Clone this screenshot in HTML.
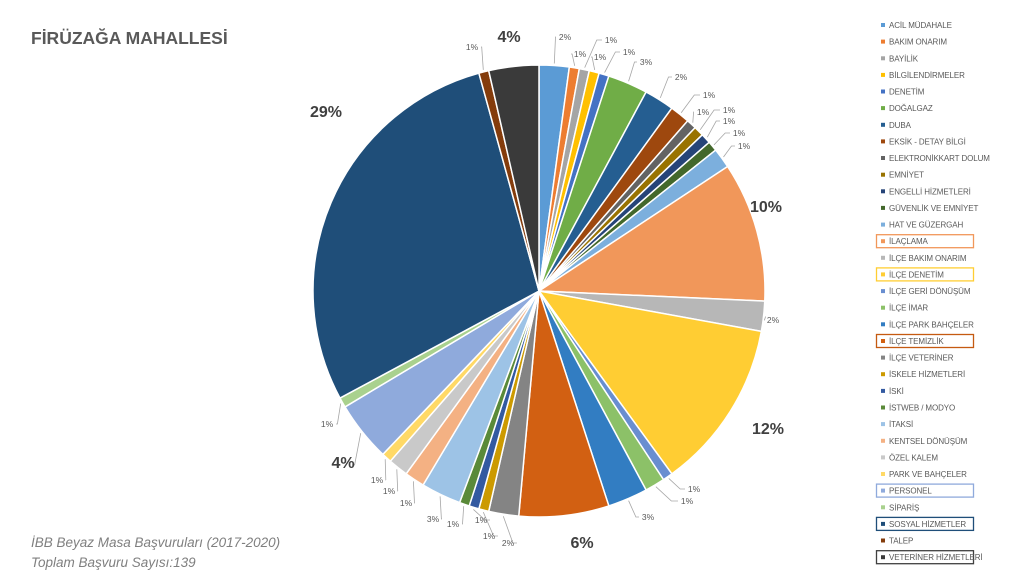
<!DOCTYPE html>
<html><head><meta charset="utf-8"><style>
body{margin:0;background:#fff;width:1030px;height:579px;overflow:hidden;font-family:"Liberation Sans",sans-serif}
.lg{font-size:8px;fill:#595959;letter-spacing:-0.1px}
.pl{font-size:8.5px;fill:#595959}
.bl{font-size:16px;font-weight:bold;fill:#404040}
</style></head><body>
<svg id="s" width="1030" height="579" xmlns="http://www.w3.org/2000/svg">
<text x="31" y="44" font-size="17.5" font-weight="bold" fill="#595959">FİRÜZAĞA MAHALLESİ</text>
<text x="31" y="547" font-size="13.5" font-style="italic" fill="#7f7f7f">İBB Beyaz Masa Başvuruları (2017-2020)</text>
<text x="31" y="567" font-size="13.5" font-style="italic" fill="#7f7f7f">Toplam Başvuru Sayısı:139</text>
<g id="pie"></g><g id="lines" stroke="#a6a6a6" stroke-width="0.8" fill="none"></g>
<g text-anchor="middle">
<text class="pl" x="565" y="40">2%</text><text class="pl" x="580" y="57">1%</text><text class="pl" x="611" y="43">1%</text>
<text class="pl" x="600" y="60">1%</text><text class="pl" x="629" y="55">1%</text><text class="pl" x="646" y="65">3%</text>
<text class="pl" x="681" y="80">2%</text><text class="pl" x="709" y="98">1%</text><text class="pl" x="703" y="115">1%</text>
<text class="pl" x="729" y="113">1%</text><text class="pl" x="729" y="124">1%</text><text class="pl" x="739" y="136">1%</text>
<text class="pl" x="744" y="149">1%</text>
<text class="bl" x="766" y="212">10%</text><text class="pl" x="773" y="323">2%</text><text class="bl" x="768" y="434">12%</text>
<text class="pl" x="694" y="492">1%</text><text class="pl" x="687" y="504">1%</text><text class="pl" x="648" y="520">3%</text>
<text class="bl" x="582" y="548">6%</text><text class="pl" x="508" y="546">2%</text><text class="pl" x="489" y="539">1%</text>
<text class="pl" x="481" y="523">1%</text><text class="pl" x="453" y="527">1%</text><text class="pl" x="433" y="522">3%</text>
<text class="pl" x="406" y="506">1%</text><text class="pl" x="389" y="494">1%</text><text class="pl" x="377" y="483">1%</text>
<text class="bl" x="343" y="468">4%</text><text class="pl" x="327" y="427">1%</text><text class="bl" x="326" y="117">29%</text>
<text class="pl" x="472" y="50">1%</text><text class="bl" x="509" y="42">4%</text>
</g>
<g id="leg"></g>
</svg>
<script>
var d=[["ACİL MÜDAHALE",3,"#5B9BD5"],["BAKIM ONARIM",1,"#ED7D31"],["BAYİLİK",1,"#A5A5A5"],["BİLGİLENDİRMELER",1,"#FFC000"],["DENETİM",1,"#4472C4"],["DOĞALGAZ",4,"#70AD47"],["DUBA",3,"#255E91"],["EKSİK - DETAY BİLGİ",2,"#9E480E"],["ELEKTRONİKKART DOLUM",1,"#636363"],["EMNİYET",1,"#997300"],["ENGELLİ HİZMETLERİ",1,"#264478"],["GÜVENLİK VE EMNİYET",1,"#43682B"],["HAT VE GÜZERGAH",2,"#7CAFDD"],["İLAÇLAMA",14,"#F1975A"],["İLÇE BAKIM ONARIM",3,"#B7B7B7"],["İLÇE DENETİM",17,"#FFCD33"],["İLÇE GERİ DÖNÜŞÜM",1,"#698ED0"],["İLÇE İMAR",2,"#8CC168"],["İLÇE PARK BAHÇELER",4,"#327DC2"],["İLÇE TEMİZLİK",9,"#D26012"],["İLÇE VETERİNER",3,"#848484"],["İSKELE HİZMETLERİ",1,"#CC9A00"],["İSKİ",1,"#335AA1"],["İSTWEB / MODYO",1,"#5A8A39"],["İTAKSİ",4,"#9DC3E6"],["KENTSEL DÖNÜŞÜM",2,"#F4B183"],["ÖZEL KALEM",2,"#C9C9C9"],["PARK VE BAHÇELER",1,"#FFD966"],["PERSONEL",6,"#8FAADC"],["SİPARİŞ",1,"#A9D18E"],["SOSYAL HİZMETLER",40,"#1F4E79"],["TALEP",1,"#843C0C"],["VETERİNER HİZMETLERİ",5,"#3A3A3A"]];
var lab=[[565,40],[580,57],[611,43],[600,60],[629,55],[646,65],[681,80],[709,98],[703,115],[729,113],[729,124],[739,136],[744,149],null,[773,323],null,[694,492],[687,504],[648,520],null,[508,546],[489,539],[481,523],[453,527],[433,522],[406,506],[389,494],[377,483],[343,468],[327,427],null,[472,50],null];
var tot=0;d.forEach(function(e){tot+=e[1]});
var cx=539,cy=291,r=226,a=0,P='',L='';
function pt(ang,rr){return [cx+rr*Math.sin(ang),cy-rr*Math.cos(ang)]}
d.forEach(function(e,i){var a2=a+e[1]/tot*2*Math.PI;var p1=pt(a,r),p2=pt(a2,r);
P+='<path d="M'+cx+','+cy+'L'+p1[0].toFixed(2)+','+p1[1].toFixed(2)+'A'+r+','+r+' 0 '+((a2-a)>Math.PI?1:0)+' 1 '+p2[0].toFixed(2)+','+p2[1].toFixed(2)+'Z" fill="'+e[2]+'" stroke="#fff" stroke-width="1.5"/>';
if(lab[i]){var m=pt((a+a2)/2,r+2),l=lab[i];var tx=l[0]+(l[0]>cx?-9:9),ty=l[1]-3;
L+='<polyline points="'+m[0].toFixed(1)+','+m[1].toFixed(1)+' '+(m[0]+(tx-m[0])*0.7).toFixed(1)+','+ty+' '+tx+','+ty+'"/>';}
a=a2;});
document.getElementById('pie').innerHTML=P;document.getElementById('lines').innerHTML=L;
var box={"İLAÇLAMA":"#F1975A","İLÇE DENETİM":"#FFCD33","İLÇE TEMİZLİK":"#C55A11","PERSONEL":"#8FAADC","SOSYAL HİZMETLER":"#1F4E79","VETERİNER HİZMETLERİ":"#404040"};
var G='';d.forEach(function(e,i){var y=25+i*16.63;
if(box[e[0]])G+='<rect x="876.5" y="'+(y-6.5).toFixed(1)+'" width="97" height="13" fill="none" stroke="'+box[e[0]]+'" stroke-width="1.3"/>';
G+='<rect x="881" y="'+(y-2).toFixed(1)+'" width="4" height="4" fill="'+e[2]+'"/><text class="lg" x="889" y="'+(y+3).toFixed(1)+'">'+e[0]+'</text>';});
document.getElementById('leg').innerHTML=G;
</script>
</body></html>
